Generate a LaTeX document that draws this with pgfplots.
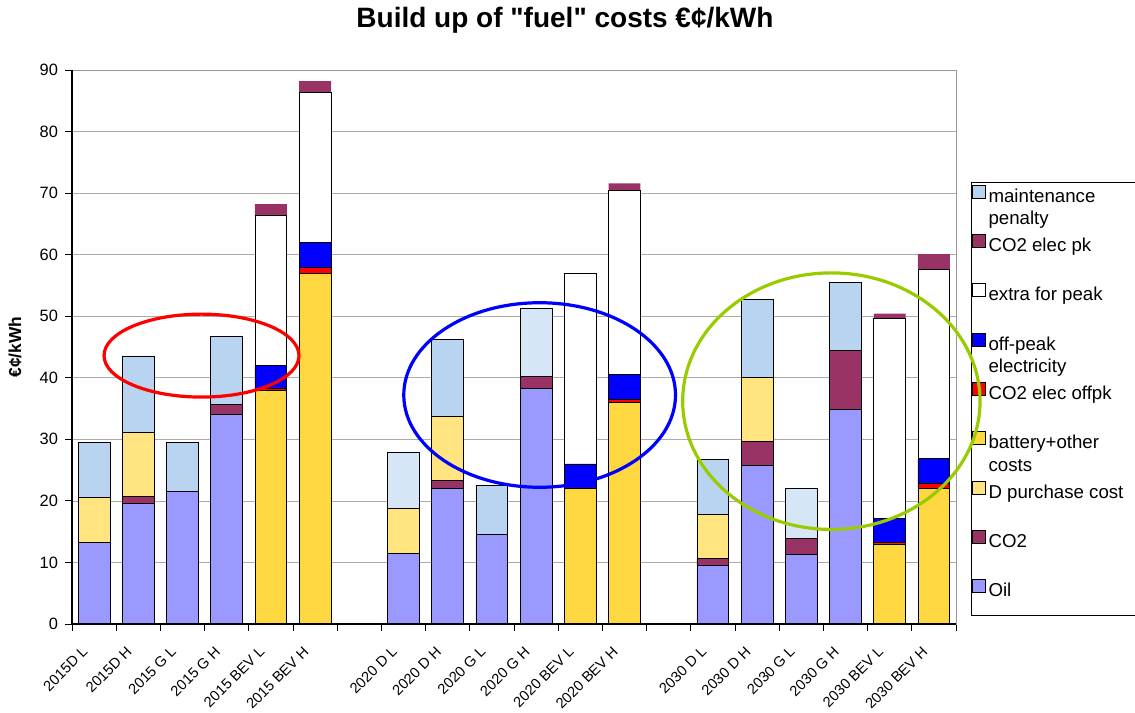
\documentclass[border=0pt]{standalone}
\usepackage{pgfplots}
\pgfplotsset{compat=1.18}
\usepackage{pgfplotstable}
\usepackage{fontspec}
\setmainfont{Liberation Sans}

\definecolor{oil}{RGB}{153,153,255}
\definecolor{co2}{RGB}{153,51,102}
\definecolor{dpur}{RGB}{255,228,128}
\definecolor{batt}{RGB}{255,215,64}
\definecolor{maint}{RGB}{185,212,240}
\definecolor{maintl}{RGB}{214,230,246}
\definecolor{grn}{RGB}{153,204,0}

\pgfplotsset{sqlegend/.style={legend image code/.code={\draw[##1] (0pt,2.8pt) rectangle (9.75pt,12.55pt);}}}
\newcommand\legtxt[2]{\parbox[t]{110pt}{\strut#1\\\strut#2}}

\pgfplotstableread{
x oil co2 dpur batt coff offpk extra cpk maint maintl
0 13.25 0 7.25 0 0 0 0 0 9.0 0
1 19.6 1.1 10.4 0 0 0 0 0 12.45 0
2 21.5 0 0 0 0 0 0 0 8.0 0
3 34.1 1.6 0 0 0 0 0 0 11.0 0
4 0 0 0 38.0 0.35 3.65 24.4 1.8 0 0
5 0 0 0 57.0 0.9 4.05 24.35 1.9 0 0
7 11.5 0 7.25 0 0 0 0 0 0 9.05
8 21.95 1.35 10.4 0 0 0 0 0 12.5 0
9 14.6 0 0 0 0 0 0 0 7.9 0
10 38.2 2.0 0 0 0 0 0 0 0 11.0
11 0 0 0 21.95 0.15 3.9 31.0 0 0 0
12 0 0 0 36.0 0.45 4.05 29.9 1.2 0 0
14 9.5 1.1 7.2 0 0 0 0 0 8.95 0
15 25.7 4.0 10.3 0 0 0 0 0 12.7 0
16 11.25 2.7 0 0 0 0 0 0 0 8.05
17 34.9 9.5 0 0 0 0 0 0 11.1 0
18 0 0 0 13.0 0.25 3.95 32.4 0.8 0 0
19 0 0 0 21.95 0.95 4.0 30.7 2.5 0 0
}\data

\begin{document}
\begin{tikzpicture}
\begin{axis}[name=ax, scale only axis, width=663pt, height=415.5pt,
  xmin=-0.5, xmax=19.5, ymin=0, ymax=90,
  ybar stacked, bar width=0.72,
  axis line style={draw=gray!80},
  xtick={-0.29,0.71,...,18.71},
  xticklabels={2015D L,2015D H,2015 G L,2015 G H,2015 BEV L,2015 BEV H,{},2020 D L,2020 D H,2020 G L,2020 G H,2020 BEV L,2020 BEV H,{},2030 D L,2030 D H,2030 G L,2030 G H,2030 BEV L,2030 BEV H},
  x tick label style={rotate=45, anchor=north east, font=\fontsize{11}{13}\selectfont, inner sep=1pt},
  xticklabel shift=9.5pt,
  major x tick style={draw=none},
  minor xtick={-0.5,0.5,...,19.5},
  minor x tick style={black, line width=0.6pt},
  ytick={0,10,...,90},
  y tick style={black, line width=0.6pt},
  yticklabel style={font=\fontsize{12.3}{14}\selectfont, xshift=-2pt},
  /pgf/number format/assume math mode=true,
  tick pos=left, tick align=outside,
  major tick length=5pt, minor tick length=5pt,
  ymajorgrids, grid style={gray!65, line width=0.5pt},
  clip=false,
  reverse legend,
  legend cell align=left,
  legend style={at={(1.017,0.798)}, anchor=north west, draw=black, line width=0.6pt,
    font=\fontsize{14}{17}\selectfont, row sep=9pt, inner sep=0.5pt,
    nodes={inner ysep=2pt, inner xsep=2pt, text height=12.5pt, text depth=11.5pt}},
]
\addplot[fill=oil, draw=black, line width=0.6pt, sqlegend] table[x=x,y=oil]{\data};
\addlegendentry{\legtxt{Oil}{}}
\addplot[fill=co2, draw=black, line width=0.6pt, sqlegend] table[x=x,y=co2]{\data};
\addlegendentry{\legtxt{CO2}{}}
\addplot[fill=dpur, draw=black, line width=0.6pt, sqlegend] table[x=x,y=dpur]{\data};
\addlegendentry{\legtxt{D purchase cost}{}}
\addplot[fill=batt, draw=black, line width=0.6pt, sqlegend] table[x=x,y=batt]{\data};
\addlegendentry{\legtxt{battery+other}{costs}}
\addplot[fill=red, draw=black, line width=0.6pt, sqlegend] table[x=x,y=coff]{\data};
\addlegendentry{\legtxt{CO2 elec offpk}{}}
\addplot[fill=blue, draw=black, line width=0.6pt, sqlegend] table[x=x,y=offpk]{\data};
\addlegendentry{\legtxt{off-peak}{electricity}}
\addplot[fill=white, draw=black, line width=0.6pt, sqlegend] table[x=x,y=extra]{\data};
\addlegendentry{\legtxt{extra for peak}{}}
\addplot[fill=co2, draw=none, sqlegend] table[x=x,y=cpk]{\data};
\addlegendentry{\legtxt{CO2 elec pk}{}}
\addplot[fill=maint, draw=black, line width=0.6pt, sqlegend] table[x=x,y=maint]{\data};
\addlegendentry{\legtxt{maintenance}{penalty}}
\addplot[fill=maintl, draw=black, line width=0.6pt, forget plot] table[x=x,y=maintl]{\data};

\node[font=\fontsize{21}{25}\selectfont\bfseries] at (rel axis cs:0.5577,1.0903) {Build up of \textquotedbl fuel\textquotedbl{} costs €¢/kWh};
\node[font=\fontsize{13}{15}\selectfont\bfseries, rotate=90] at (rel axis cs:-0.0645,0.5) {€¢/kWh};
\coordinate (redc) at (axis cs:2.43,43.6);
\coordinate (bluc) at (axis cs:10.08,37.2);
\coordinate (grnc) at (axis cs:16.68,36.2);
\end{axis}
\draw[black, line width=0.8pt] (ax.north west) -- (ax.south west) -- (ax.south east);
\draw[red, line width=2.4pt] (redc) ellipse [x radius=73.1pt, y radius=31.1pt];
\draw[blue, line width=2.4pt] (bluc) ellipse [x radius=101.9pt, y radius=69.2pt];
\draw[grn, line width=2.4pt] (grnc) ellipse [x radius=111.5pt, y radius=96.2pt];
\pgfresetboundingbox
\path ([shift={(-54pt,-66.75pt)}]ax.south west) rectangle ([shift={(134.25pt,52.5pt)}]ax.north east);
\end{tikzpicture}
\end{document}
